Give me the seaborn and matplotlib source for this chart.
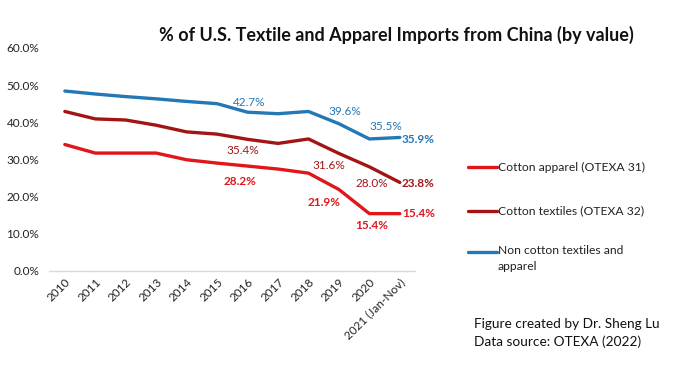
import matplotlib
matplotlib.use("Agg")
import matplotlib.pyplot as plt
from matplotlib.lines import Line2D
from matplotlib.ticker import FuncFormatter
import seaborn as sns
import pandas as pd

years = ["2010", "2011", "2012", "2013", "2014", "2015", "2016", "2017",
         "2018", "2019", "2020", "2021 (Jan-Nov)"]
cotton_apparel = [34.0, 31.7, 31.7, 31.7, 29.9, 29.0, 28.2, 27.4, 26.3, 21.9, 15.4, 15.4]
cotton_textiles = [42.9, 40.9, 40.6, 39.2, 37.4, 36.8, 35.4, 34.3, 35.5, 31.6, 28.0, 23.8]
non_cotton = [48.4, 47.6, 46.9, 46.3, 45.6, 45.0, 42.7, 42.3, 42.9, 39.6, 35.5, 35.9]
series_names = ["Cotton apparel (OTEXA 31)", "Cotton textiles (OTEXA 32)",
                "Non cotton textiles and apparel"]

colors = ["#E0161B", "#A31515", "#2378B5"]

df = pd.concat([
    pd.DataFrame({"year": years, "idx": range(len(years)), "value": vals, "series": name})
    for name, vals in zip(series_names, [cotton_apparel, cotton_textiles, non_cotton])
])

sns.set_theme(style="white")
plt.rcParams["font.family"] = ["Lato", "DejaVu Sans"]

fig = plt.figure(figsize=(6.76, 3.66), dpi=100)
ax = fig.add_axes([0.0725, 0.26, 0.5415, 0.609])
sns.lineplot(data=df, x="idx", y="value", hue="series", palette=colors,
             linewidth=2.4, legend=False, ax=ax, sort=False)

ax.set_xlim(-0.52, 11.5)
ax.set_ylim(0, 60)
ax.set_yticks([0, 10, 20, 30, 40, 50, 60])
ax.yaxis.set_major_formatter(FuncFormatter(lambda v, p: f"{v:.1f}%"))
ax.set_xticks(range(len(years)))
ax.set_xticklabels(years, rotation=45, ha="right", rotation_mode="anchor")
ax.tick_params(axis="both", labelsize=8.5, length=0, colors="#222222")
ax.tick_params(axis="x", pad=4)
ax.tick_params(axis="y", pad=7)
ax.set_xlabel("")
ax.set_ylabel("")
for s in ["top", "right", "left"]:
    ax.spines[s].set_visible(False)
ax.spines["bottom"].set_color("#D9D9D9")
ax.spines["bottom"].set_linewidth(1.0)

# data labels: (series values, color, [(index, dx, dy, ha, weight)])
label_specs = [
    (cotton_apparel, colors[0], [(6, -8, -15, "center", "bold"), (9, -15, -13, "center", "bold"),
                                 (10, 2, -12, "center", "bold"), (11, 2, 0, "left", "bold")]),
    (cotton_textiles, colors[1], [(6, -5, -11, "center", "normal"), (9, -10, -12, "center", "normal"),
                                  (10, 2, -17, "center", "normal"), (11, 2, -1, "left", "bold")]),
    (non_cotton, colors[2], [(6, 2, 10, "center", "normal"), (9, 6, 12, "center", "normal"),
                             (10, 16, 12, "center", "normal"), (11, 2, -2, "left", "bold")]),
]
for vals, col, specs in label_specs:
    for i, dx, dy, ha, wt in specs:
        ax.annotate(f"{vals[i]:.1f}%", xy=(i, vals[i]), xytext=(dx, dy),
                    textcoords="offset pixels", ha=ha, va="center",
                    color=col, fontsize=8.5, fontweight=wt)

fig.text(0.587, 0.905, "% of U.S. Textile and Apparel Imports from China (by value)",
         ha="center", va="center", fontsize=13, fontweight="bold", color="#111111")

# legend swatches and labels
W, H = 676, 366
legend_rows = [(series_names[0], colors[0], 167), (series_names[1], colors[1], 211),
               ("Non cotton textiles and\napparel", colors[2], 252)]
for text, col, ypx in legend_rows:
    yf = 1 - ypx / H
    fig.add_artist(Line2D([468 / W, 497 / W], [yf, yf], color=col, linewidth=2.4,
                          transform=fig.transFigure))
    if "\n" in text:
        fig.text(498 / W, yf + 7 / H, text, ha="left", va="top", fontsize=8.7,
                 color="#222222", linespacing=1.55)
    else:
        fig.text(498 / W, yf, text, ha="left", va="center", fontsize=8.7,
                 color="#222222")

fig.text(474 / W, 1 - 324 / H, "Figure created by Dr. Sheng Lu", ha="left", va="center",
         fontsize=9.8, color="#111111")
fig.text(474 / W, 1 - 342 / H, "Data source: OTEXA (2022)", ha="left", va="center",
         fontsize=9.8, color="#111111")

fig.savefig("out.png", dpi=100)
